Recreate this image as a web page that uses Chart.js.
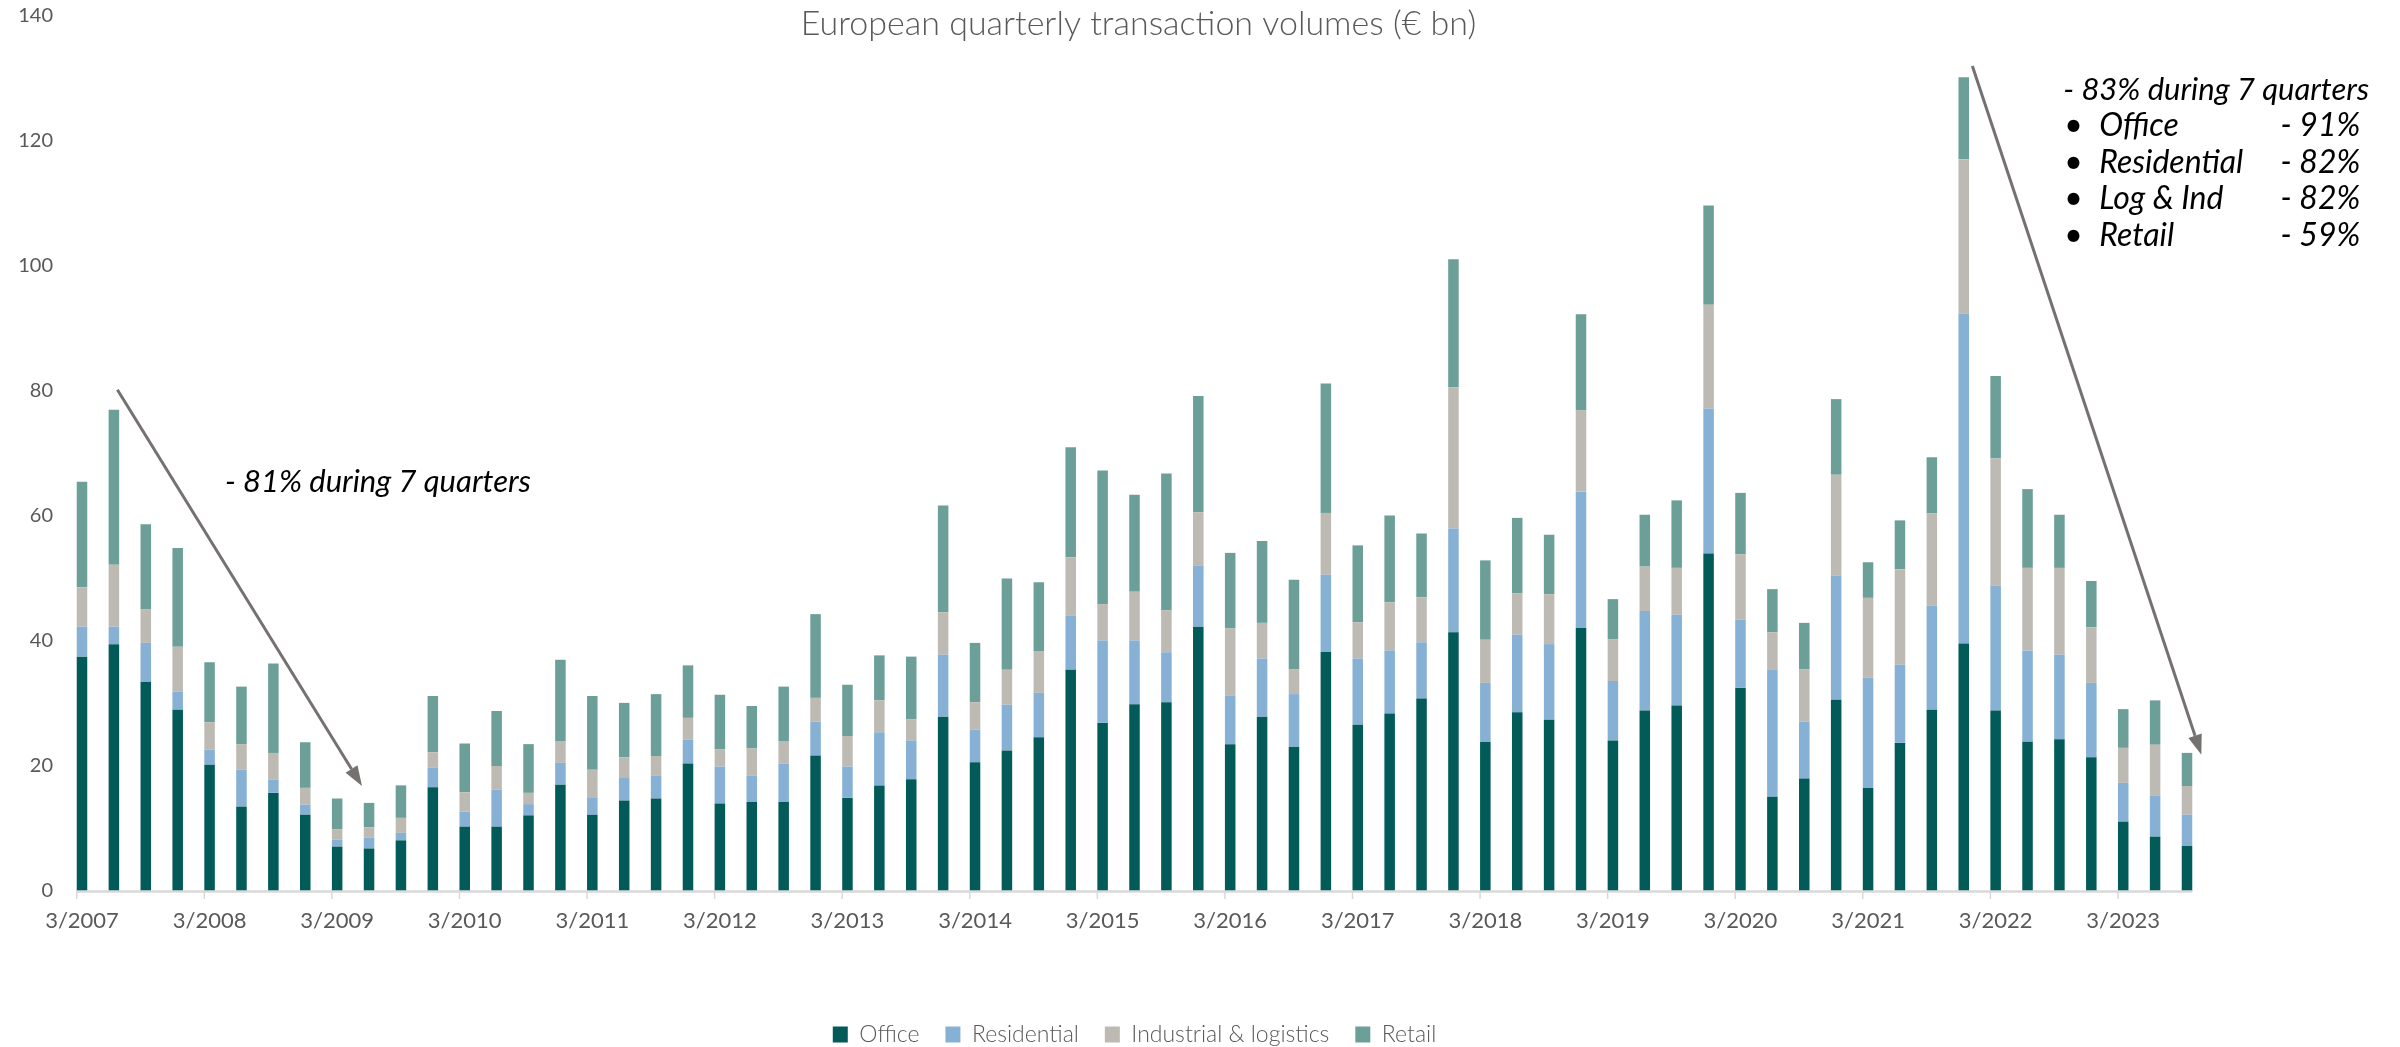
<!DOCTYPE html>
<html lang="en">
<head>
  <meta charset="UTF-8" />
  <title>European quarterly transaction volumes</title>
  <script src="https://cdn.jsdelivr.net/npm/chart.js"></script>
  <style>
    html, body { margin: 0; padding: 0; background: #fff; }
  </style>
</head>
<body>
  <canvas id="volumeChart" width="2400" height="1047"></canvas>

  <script>
    // Quarter-end labels 3/2007 .. 9/2023
    const quarters = [];
    for (let year = 2007; year <= 2023; year++) {
      for (const month of [3, 6, 9, 12]) {
        if (year === 2023 && month === 12) break;
        quarters.push(month + '/' + year);
      }
    }

    // € bn per quarter and sector
    const office = [
      37.5, 39.5, 33.5, 29.0, 20.2, 13.5, 15.7, 12.2, 7.1, 6.8, 8.1, 16.6,
      10.3, 10.3, 12.1, 17.0, 12.2, 14.5, 14.8, 20.4, 14.0, 14.3, 14.3, 21.7,
      14.9, 16.9, 17.9, 27.9, 20.6, 22.5, 24.6, 35.4, 26.9, 29.9, 30.2, 42.3,
      23.5, 27.9, 23.1, 38.3, 26.6, 28.4, 30.8, 41.4, 23.9, 28.6, 27.4, 42.1,
      24.1, 28.9, 29.7, 54.0, 32.5, 15.1, 18.0, 30.6, 16.5, 23.7, 29.0, 39.6,
      28.9, 23.9, 24.3, 21.4, 11.1, 8.7, 7.2
    ];
    const residential = [
      4.8, 2.8, 6.2, 2.9, 2.4, 5.9, 2.1, 1.6, 1.1, 1.7, 1.2, 3.1,
      2.4, 5.9, 1.8, 3.5, 2.8, 3.7, 3.7, 3.8, 5.9, 4.2, 6.1, 5.4,
      5.0, 8.5, 6.2, 9.9, 5.2, 7.3, 7.1, 8.7, 13.2, 10.2, 8.0, 9.8,
      7.8, 9.3, 8.4, 12.3, 10.6, 10.1, 9.0, 16.6, 9.4, 12.4, 12.1, 21.8,
      9.5, 15.9, 14.5, 23.2, 10.9, 20.4, 9.1, 19.9, 17.6, 12.5, 16.7, 52.8,
      20.0, 14.6, 13.5, 11.9, 6.2, 6.6, 5.0
    ];
    const industrial = [
      6.3, 9.9, 5.4, 7.2, 4.4, 4.1, 4.3, 2.7, 1.7, 1.7, 2.4, 2.5,
      3.1, 3.8, 1.8, 3.5, 4.4, 3.2, 3.1, 3.5, 2.8, 4.3, 3.6, 3.8,
      4.9, 5.1, 3.4, 6.8, 4.4, 5.6, 6.6, 9.3, 5.8, 7.8, 6.7, 8.5,
      10.7, 5.7, 4.0, 9.9, 5.8, 7.7, 7.2, 22.6, 6.9, 6.6, 8.0, 13.0,
      6.7, 7.1, 7.5, 16.6, 10.5, 5.9, 8.4, 16.1, 12.8, 15.3, 14.7, 24.7,
      20.3, 13.2, 13.9, 8.9, 5.6, 8.1, 4.6
    ];
    const retail = [
      16.9, 24.8, 13.6, 15.8, 9.6, 9.2, 14.3, 7.3, 4.9, 3.9, 5.2, 9.0,
      7.8, 8.8, 7.8, 13.0, 11.8, 8.7, 9.9, 8.4, 8.7, 6.8, 8.7, 13.4,
      8.2, 7.2, 10.0, 17.1, 9.5, 14.6, 11.1, 17.6, 21.4, 15.5, 21.9, 18.6,
      12.1, 13.1, 14.3, 20.7, 12.3, 13.9, 10.2, 20.5, 12.7, 12.1, 9.5, 15.4,
      6.4, 8.3, 10.8, 15.9, 9.8, 6.9, 7.4, 12.1, 5.7, 7.8, 9.0, 13.1,
      13.2, 12.6, 8.5, 7.4, 6.2, 7.1, 5.3
    ];

    const sectorNames = ['Office', 'Residential', 'Industrial & logistics', 'Retail'];
    const sectorColors = ['#035b59', '#86b0d4', '#bdbab3', '#6d9f99'];

    const yMax = 140;
    const yStep = 20;

    const titleText = 'European quarterly transaction volumes (€ bn)';
    const leftNote = '- 81% during 7 quarters';
    const rightNote = '- 83% during 7 quarters';
    const rightBullets = [
      ['Office', '- 91%'],
      ['Residential', '- 82%'],
      ['Log & Ind', '- 82%'],
      ['Retail', '- 59%']
    ];

    const FONT = 'Lato, "Open Sans", sans-serif';
    const GREY_TEXT = '#595959';
    const ARROW = '#767171';

    function drawArrow(ctx, x1, y1, x2, y2) {
      const ang = Math.atan2(y2 - y1, x2 - x1);
      const len = 20, wid = 7;
      const bx = x2 - len * Math.cos(ang);
      const by = y2 - len * Math.sin(ang);
      ctx.beginPath();
      ctx.moveTo(x1, y1);
      ctx.lineTo(bx, by);
      ctx.stroke();
      ctx.beginPath();
      ctx.moveTo(x2, y2);
      ctx.lineTo(bx + wid * Math.sin(ang), by - wid * Math.cos(ang));
      ctx.lineTo(bx - wid * Math.sin(ang), by + wid * Math.cos(ang));
      ctx.closePath();
      ctx.fill();
    }

    // axis line, tick marks, title and the two trend notes
    const decorations = {
      id: 'decorations',
      afterDatasetsDraw(chart) {
        const { ctx, chartArea, scales: { x, y } } = chart;
        const y0 = y.getPixelForValue(0);
        const half = chart.getDatasetMeta(0).data[0].width / 2;
        ctx.save();
        ctx.strokeStyle = '#d9d9d9';
        ctx.lineWidth = 2.5;
        ctx.beginPath();
        ctx.moveTo(chartArea.left - half, y0 + 0.5);
        ctx.lineTo(chartArea.right + half, y0 + 0.5);
        ctx.stroke();
        ctx.lineWidth = 1.5;
        quarters.forEach((q, i) => {
          if (!q.startsWith('3/')) return;
          const px = x.getPixelForValue(i) - half;
          ctx.beginPath();
          ctx.moveTo(px, y0);
          ctx.lineTo(px, y0 + 8);
          ctx.stroke();
        });
        ctx.restore();
      },
      afterDraw(chart) {
        const { ctx, chartArea, scales: { x, y } } = chart;
        ctx.save();

        ctx.fillStyle = GREY_TEXT;
        ctx.font = '300 34px ' + FONT;
        ctx.textAlign = 'center';
        ctx.textBaseline = 'alphabetic';
        ctx.fillText(titleText, (chartArea.left + chartArea.right) / 2 + 4, 35);

        ctx.strokeStyle = ARROW;
        ctx.fillStyle = ARROW;
        ctx.lineWidth = 3;
        drawArrow(ctx, x.getPixelForValue(1.11), y.getPixelForValue(80.2),
                       x.getPixelForValue(8.78), y.getPixelForValue(16.8));
        drawArrow(ctx, x.getPixelForValue(59.27), y.getPixelForValue(132),
                       x.getPixelForValue(66.45), y.getPixelForValue(21.8));

        ctx.fillStyle = '#000';
        ctx.textAlign = 'left';
        ctx.font = 'italic 31px ' + FONT;
        ctx.fillText(leftNote, x.getPixelForValue(4.48), y.getPixelForValue(63.9));

        const rx = x.getPixelForValue(62.12);
        const ry = y.getPixelForValue(126.6);
        ctx.fillText(rightNote, rx, ry);
        ctx.font = 'italic 32px ' + FONT;
        rightBullets.forEach(([label, pct], i) => {
          const by = ry + 36.5 + i * 36.5;
          ctx.textAlign = 'left';
          ctx.fillText('•', rx + 1, by);
          ctx.fillText(label, rx + 36, by);
          ctx.textAlign = 'right';
          ctx.fillText(pct, rx + 297, by);
        });

        ctx.restore();
      }
    };

    const seriesValues = [office, residential, industrial, retail];

    new Chart(document.getElementById('volumeChart'), {
      type: 'bar',
      data: {
        labels: quarters,
        datasets: sectorNames.map((name, i) => ({
          label: name,
          data: seriesValues[i],
          backgroundColor: sectorColors[i],
          borderWidth: 0,
          barPercentage: 0.33,
          categoryPercentage: 1,
          clip: false
        }))
      },
      options: {
        responsive: false,
        animation: false,
        layout: { padding: { top: 16, right: 213, bottom: -9, left: 0 } },
        scales: {
          x: {
            stacked: true,
            offset: false,
            grid: { display: false, drawTicks: false },
            border: { display: false },
            ticks: {
              autoSkip: false,
              maxRotation: 0,
              minRotation: 0,
              padding: 17,
              color: GREY_TEXT,
              font: { family: FONT, size: 22 },
              callback: (v, i) => quarters[i].startsWith('3/') ? quarters[i] : ''
            },
            afterFit(scale) { scale.height = 106; }
          },
          y: {
            stacked: true,
            min: 0,
            max: yMax,
            grid: { display: false, drawTicks: false },
            border: { display: false },
            ticks: {
              stepSize: yStep,
              padding: 29,
              color: GREY_TEXT,
              font: { family: FONT, size: 20 }
            },
            afterFit(scale) {
              scale.width = 82;
              // tick padding is horizontal only here, keep it out of the top margin
              scale.paddingTop = 0;
              scale.paddingBottom = 0;
            }
          }
        },
        plugins: {
          tooltip: { enabled: false },
          legend: {
            position: 'bottom',
            fullSize: false,
            labels: {
              boxWidth: 15,
              boxHeight: 16,
              padding: 26,
              color: GREY_TEXT,
              font: { family: FONT, size: 23, weight: 300 }
            }
          }
        }
      },
      plugins: [decorations]
    });
  </script>
</body>
</html>
